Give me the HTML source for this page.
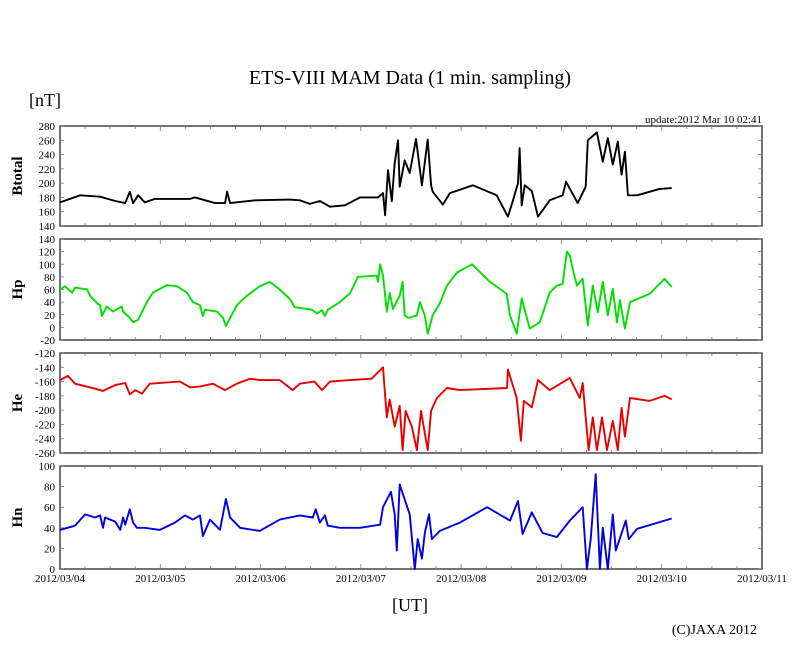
<!DOCTYPE html>
<html><head><meta charset="utf-8"><style>
html,body{margin:0;padding:0;background:#fff;}
svg{display:block;font-family:"Liberation Serif",serif;}
</style></head><body>
<svg id="chart" width="810" height="655" viewBox="0 0 810 655">
<text x="410" y="84" font-size="20" text-anchor="middle">ETS-VIII MAM Data (1 min. sampling)</text>
<text x="29" y="106" font-size="18">[nT]</text>
<text x="762" y="123" font-size="11" text-anchor="end">update:2012 Mar 10 02:41</text>
<text x="410" y="611" font-size="18" text-anchor="middle">[UT]</text>
<text x="757" y="634" font-size="14" text-anchor="end">(C)JAXA 2012</text>
<g id="plots"></g>
</svg>
<script>
const dayLabels = ["2012/03/04","2012/03/05","2012/03/06","2012/03/07","2012/03/08","2012/03/09","2012/03/10","2012/03/11"];
const tB = [0,4.8,9.6,13.2,15.6,16.7,17.5,18.7,20.3,22.7,31.1,32.3,37.1,39.5,40,40.7,46.7,55,57.4,59.8,62.2,64.6,68.2,71.8,76.1,77.3,77.8,78.5,79.4,80.1,80.9,81.3,82.5,83.7,85.2,86.6,88,88.8,89.2,91.6,93.3,98.8,104.5,107.2,108.4,109.6,110,110.5,111.2,112.9,114.4,117.2,120.3,121.1,123.9,125.8,126.3,128.5,129.9,131.1,132.3,133.5,134.4,135.2,135.9,138.1,143.5,146.4];
const vB = [173,183,181,175,172,188,172,183,173,178,178,180,172,172,188,172,176,177,176,171,175,167,169,180,180,186,155,218,175,228,260,195,232,214,262,197,261,197,188,170,186,197,183,153,176,200,249,169,197,189,153,176,183,202,172,195,260,271,230,263,226,258,212,244,183,183,192,193];
const tP = [0,1.2,2.9,3.6,6.5,7.2,8.9,9.6,10,11.2,12.7,14.8,15.1,16.7,17.5,18.7,20.8,22.2,25.6,28,30.4,31.8,33.5,34.2,34.7,37.6,39,39.7,40.7,42.3,44.7,47.8,50.2,52.6,55,56.2,60.3,61.5,62.7,63.4,64.1,67,69.4,71.3,75.8,76.1,76.6,77.3,78.2,78.9,79.7,81.3,82,82.5,83.3,85.4,86.1,87.3,88,89.2,90.9,92.6,95,98.6,102.9,106.9,107.7,109.3,110.5,112.4,114.8,117.2,118.9,120.3,121.3,122,122.7,123.7,125.1,126.3,127.5,128.7,129.9,131.1,132.3,133.3,134,135.2,136.4,141.1,144.7,146.4];
const vP = [60,65,55,63,60,50,38,35,18,33,25,33,25,15,8,12,40,55,67,65,55,40,35,18,28,25,15,2,15,35,50,65,72,60,45,32,28,22,27,18,28,40,54,80,82,72,100,82,25,55,29,50,72,19,15,19,40,19,-10,19,38,66,87,100,72,53,19,-10,46,-2,8,55,66,69,120,114,93,66,77,3,66,24,72,19,61,8,43,-2,40,53,77,64];
const tE = [0,1.9,3.6,8.4,10.3,13.2,15.6,16.7,18,19.6,21.5,28.7,31.1,33.5,36.6,39.5,42.3,45.5,47.8,52.6,55.7,57.4,60.9,62.7,64.6,69.4,74.6,77.3,78.2,78.9,80.1,81.3,82,82.7,84.2,85.4,86.4,88,88.8,90.2,92.6,95.7,107,107.2,109.3,110.3,111,112.9,114.4,117.2,122,124.4,125.1,126.5,127.5,128.5,129.7,130.9,132.3,133.5,134.4,135.2,136.4,141.1,144.7,146.4];
const vE = [-158,-152,-163,-170,-173,-165,-162,-178,-172,-177,-163,-160,-168,-167,-163,-172,-163,-156,-158,-158,-172,-163,-160,-172,-160,-158,-156,-140,-210,-185,-223,-194,-256,-201,-223,-256,-201,-256,-201,-183,-169,-172,-169,-143,-183,-243,-187,-196,-158,-172,-155,-183,-162,-256,-210,-256,-210,-256,-215,-256,-197,-237,-183,-187,-180,-185];
const tN = [0,3.6,6,8.4,9.6,10.3,10.8,13.2,14.4,15.1,15.6,16.7,17.5,18.4,20.3,23.9,27.5,29.9,31.8,33.5,34.2,35.9,38.3,39.7,40.7,43.1,47.8,52.6,57.4,60.5,61.2,62.2,63.4,64.1,67,71.8,76.6,77.3,79.2,80.1,80.6,81.3,83.7,84.9,85.6,86.6,87.3,88.3,89,90.9,95.7,102.2,107.7,109.6,110.7,112.9,115.5,118.9,122,125.1,126.1,127,128.2,129.2,129.9,131.1,132.3,133,135.4,136.1,138.1,146.4];
const vN = [38,42,53,50,52,40,50,46,38,50,43,58,45,40,40,38,45,52,48,52,32,48,38,68,50,40,37,48,52,50,58,45,52,42,40,40,43,60,75,53,18,82,53,0,29,10,35,53,29,37,45,60,47,66,34,55,35,31,47,60,0,29,92,0,40,0,53,18,47,29,39,49];
const ticksB = [280,260,240,220,200,180,160,140];
const ticksP = [140,120,100,80,60,40,20,0,-20];
const ticksE = [-120,-140,-160,-180,-200,-220,-240,-260];
const ticksN = [100,80,60,40,20,0];

const NS = "http://www.w3.org/2000/svg";
const X0 = 60, X1 = 762, HOURS = 168;
function xs(h){ return X0 + h*(X1-X0)/HOURS; }
const g = document.getElementById('plots');
function mk(tag, attrs, parent){
  const e = document.createElementNS(NS, tag);
  for (const k in attrs) e.setAttribute(k, attrs[k]);
  (parent||g).appendChild(e);
  return e;
}
const panels = [
  {key:'btotal', label:'Btotal', top:126, bot:226, max:280, min:140, ticks:ticksB, t:tB, v:vB, color:'#000'},
  {key:'hp', label:'Hp', top:239, bot:340, max:140, min:-20, ticks:ticksP, t:tP, v:vP, color:'#00e000'},
  {key:'he', label:'He', top:353, bot:453, max:-120, min:-260, ticks:ticksE, t:tE, v:vE, color:'#e80000'},
  {key:'hn', label:'Hn', top:466, bot:569, max:100, min:0, ticks:ticksN, t:tN, v:vN, color:'#0000e0'}
];
panels.forEach(p => {
  const ys = val => p.top + (p.max - val)*(p.bot - p.top)/(p.max - p.min);
  const pg = mk('g', {});
  
  
  const frame = mk('rect', {x:X0, y:p.top, width:X1-X0, height:p.bot-p.top, fill:'none', stroke:'#444', 'stroke-width':1.5}, pg);
  
  
  p.ticks.forEach(tv => {
    const y = ys(tv);
    const lb = mk('text', {x:55, y:y+4, 'font-size':11, 'text-anchor':'end'}, pg);
    lb.textContent = tv;
    
    
    mk('line', {x1:X0, x2:X0+4, y1:y, y2:y, stroke:'#777', 'stroke-width':0.8}, pg);
    mk('line', {x1:X1-4, x2:X1, y1:y, y2:y, stroke:'#777', 'stroke-width':0.8}, pg);
  });
  for (let h = 6; h < HOURS; h += 6) {
    const x = xs(h), len = (h % 24 === 0) ? 5 : 3;
    mk('line', {x1:x, x2:x, y1:p.bot, y2:p.bot-len, stroke:'#777', 'stroke-width':0.8}, pg);
    mk('line', {x1:x, x2:x, y1:p.top, y2:p.top+len, stroke:'#777', 'stroke-width':0.8}, pg);
  }
  const yl = mk('text', {x:0, y:0, 'font-size':15, 'font-weight':'bold', 'text-anchor':'middle', transform:'translate(22,' + ((p.top+p.bot)/2) + ') rotate(-90)'}, pg);
  yl.textContent = p.label;
  
  
  let d = '';
  p.t.forEach((h, i) => {
    const y = Math.max(p.top, Math.min(p.bot, ys(p.v[i])));
    d += (i ? 'L' : 'M') + xs(h).toFixed(1) + ' ' + y.toFixed(1);
  });
  const line = mk('path', {d:d, fill:'none', stroke:p.color, 'stroke-width':1.9, 'stroke-linejoin':'round'}, pg);
  
  
});
dayLabels.forEach((lab, i) => {
  const t = mk('text', {x:xs(i*24), y:582, 'font-size':11, 'text-anchor':'middle'});
  t.textContent = lab;
  
  
});
</script>
</body></html>
